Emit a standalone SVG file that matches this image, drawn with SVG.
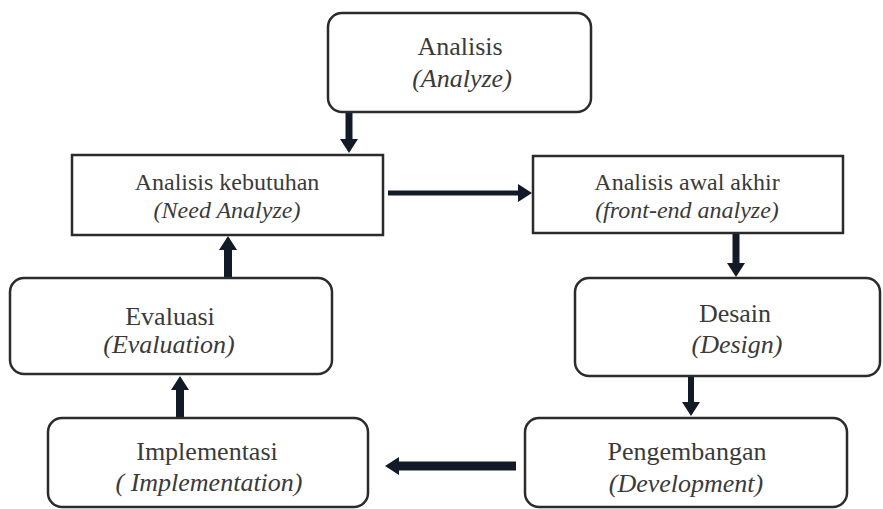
<svg xmlns="http://www.w3.org/2000/svg" width="883" height="509" viewBox="0 0 883 509">
<style>
.box{fill:#fff;stroke:#2b2b2b;stroke-width:2.5}
.t{font-family:"Liberation Serif","Times New Roman",serif;fill:#3a3a3a;text-anchor:middle}
.it{font-style:italic}
.a{fill:none;stroke:#121a28}
</style>
<defs>
<marker id="ah" viewBox="0 0 14 18" markerWidth="14" markerHeight="18" markerUnits="userSpaceOnUse" refX="1" refY="9" orient="auto">
<path d="M0,0 L14,9 L0,18 z" fill="#121a28"/>
</marker>
</defs>
<rect width="883" height="509" fill="#fff"/>
<g id="connectors">
<line class="a" x1="349" y1="113" x2="349" y2="140" stroke-width="7" marker-end="url(#ah)"/>
<line class="a" x1="388" y1="193" x2="519" y2="193" stroke-width="5" marker-end="url(#ah)"/>
<line class="a" x1="736" y1="234" x2="736" y2="264" stroke-width="7" marker-end="url(#ah)"/>
<line class="a" x1="228" y1="277" x2="228" y2="249" stroke-width="8" marker-end="url(#ah)"/>
<line class="a" x1="691" y1="376" x2="691" y2="403" stroke-width="6" marker-end="url(#ah)"/>
<line class="a" x1="180" y1="417" x2="180" y2="389" stroke-width="8" marker-end="url(#ah)"/>
<line class="a" x1="516" y1="466" x2="398" y2="466" stroke-width="9" marker-end="url(#ah)"/>
</g>
<g id="analisis">
<rect class="box" x="328" y="13" width="263" height="99" rx="14"/>
<text class="t" x="460" y="55" font-size="26">Analisis</text>
<text class="t it" x="462" y="87" font-size="26">(Analyze)</text>
</g>
<g id="analisis-kebutuhan">
<rect class="box" x="72" y="155" width="311" height="80"/>
<text class="t" x="227" y="190" font-size="24">Analisis kebutuhan</text>
<text class="t it" x="227" y="218" font-size="24">(Need Analyze)</text>
</g>
<g id="analisis-awal-akhir">
<rect class="box" x="533" y="156" width="310" height="77"/>
<text class="t" x="687" y="190" font-size="24">Analisis awal akhir</text>
<text class="t it" x="687" y="218" font-size="24">(front-end analyze)</text>
</g>
<g id="evaluasi">
<rect class="box" x="10" y="278" width="322" height="96" rx="14"/>
<text class="t" x="170" y="325" font-size="26">Evaluasi</text>
<text class="t it" x="169" y="353" font-size="26">(Evaluation)</text>
</g>
<g id="desain">
<rect class="box" x="575" y="278" width="305" height="98" rx="14"/>
<text class="t" x="735" y="322" font-size="26">Desain</text>
<text class="t it" x="737" y="353" font-size="26">(Design)</text>
</g>
<g id="implementasi">
<rect class="box" x="48" y="418" width="320" height="89" rx="14"/>
<text class="t" x="207" y="460" font-size="26">Implementasi</text>
<text class="t it" x="209" y="491" font-size="26">( Implementation)</text>
</g>
<g id="pengembangan">
<rect class="box" x="525" y="418" width="322" height="89" rx="14"/>
<text class="t" x="687" y="460" font-size="26">Pengembangan</text>
<text class="t it" x="686" y="492" font-size="26">(Development)</text>
</g>
</svg>
